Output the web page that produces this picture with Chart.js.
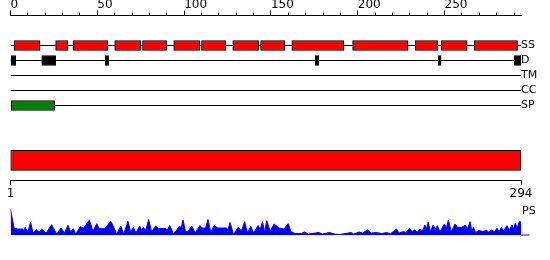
<!DOCTYPE html>
<html><head><meta charset="utf-8">
<script src="https://cdn.jsdelivr.net/npm/chart.js@4/dist/chart.umd.min.js"></script>
<style>
html,body{margin:0;padding:0;background:#fff;width:550px;height:260px;overflow:hidden;position:relative}
canvas{position:absolute;left:0}
</style></head><body>
<canvas id="tracks" width="550" height="121" style="top:0"></canvas>
<canvas id="protein" width="550" height="72" style="top:140px"></canvas>
<canvas id="ps" width="550" height="45" style="top:200px"></canvas>
<script>
// ---------- data ----------
const seqLength = 294;
const trackLabels = ['SS', 'D', 'TM', 'CC', 'SP'];
const ssSegments = [[2,17],[26,33],[36,56],[60,75],[76,90],[94,109],[110,124],[128,143],[144,158],[162,192],[197,229],[233,246],[248,263],[267,292]];
const disorderSegments = [[0,3],[18,26],[54.5,56.5],[175.5,177.5],[246.3,248],[290,294]];
const tmSegments = [];
const ccSegments = [];
const spSegments = [[0,25.5]];
const domainSegments = [[1,294]];
const topMajorStep = 50;
const topMinorStep = 10;
const bottomTicks = [1, 294];
const psLabel = 'PS';
const psProfile = [[1,26],[3,7],[5,6],[8,6],[8.7,4],[9.4,7.7],[11,3],[12.5,12.7],[14,2],[16,5.7],[17.5,3],[19,5.7],[21.5,2],[24.6,10.3],[27.5,1],[30,7],[32,2],[34,9.7],[35.5,3],[37,6.3],[38.5,1],[41,8.3],[43,7],[46.3,15],[48.3,3.7],[50.5,11.3],[52,6.3],[55,6.3],[58.6,13.7],[62,1],[64.3,9],[66,1],[68.4,13.7],[70,3],[71.5,7.7],[73,2],[75.1,9],[76.2,5],[77.4,7.5],[78.5,4],[80.3,15.5],[82,3],[84.3,9],[86,6.5],[90,6.5],[91,5],[92.4,9.5],[94.5,1.5],[96,4],[98,9],[99,7],[100,15],[101.5,3],[103,4],[105,9],[107,2],[109.7,9.5],[111,7],[113,7],[114.3,15.5],[116,2.5],[117.8,9.5],[120,7],[125,7],[125.8,5],[127,12.5],[129,0.5],[131.8,8],[133.5,4],[135.4,13.3],[137,2],[138.9,8.7],[140.5,2],[143.1,9.5],[144.3,5],[145.6,13.3],[146.8,3],[148.1,14.3],[150,3.7],[152.3,11],[155,7],[158,6],[160.4,11.3],[162,3],[164.5,1.5],[168,1.5],[169.6,3],[172,1],[178,2.5],[180,1],[184,2.5],[187,1],[190,0.5],[196.5,2.5],[198,1],[201,3],[203,2],[206,5],[208,2],[211,2.5],[214,1.5],[217,2.5],[219,1],[222.5,6],[224,2],[226.5,3.5],[228,2.5],[230,6.5],[231.5,3.5],[233,5],[234.5,3],[236,6],[237.5,4],[238.8,10],[239.8,6],[240.7,12.7],[242,3.5],[243.6,10],[244.8,6],[246,9.3],[247.5,3],[250,11],[251.2,7],[252.3,15],[254,3],[256.1,11],[257.5,7.7],[260,7.5],[261.9,10],[263.3,6.5],[264.8,13.3],[265.8,3],[266.6,7.7],[268,2.5],[270,4.5],[272,3.5],[274,4.5],[275.5,3],[277.3,5.3],[278.7,3],[280.2,6.7],[281.5,3.5],[282.7,7.7],[284,4],[285.9,9.3],[287.3,5],[288.8,10],[289.8,6],[290.7,12],[291.8,7],[293,13.3],[294,13]];
const psMax = 26;

// ---------- charts ----------
Chart.defaults.font.family = 'DejaVu Sans';
Chart.defaults.color = '#000';
const common = {responsive:false, animation:false, events:[], plugins:{legend:{display:false}, tooltip:{enabled:false}}};
const noPad = s => { s.paddingLeft = 0; s.paddingRight = 0; s.paddingTop = 0; s.paddingBottom = 0; };
const segs = (arr, label) => arr.map(([a,b]) => ({x:[a,b], y:label}));
const barStyle = (fill, thick) => ({type:'bar', indexAxis:'y', backgroundColor:fill, borderColor:'#000', borderWidth:1, borderSkipped:false, barThickness:thick, grouped:false, order:1});

const yCats = ['', '', ...trackLabels, ''];
new Chart(document.getElementById('tracks'), {
  type:'bar',
  data:{labels:yCats, datasets:[
    ...trackLabels.map(t => ({type:'line', indexAxis:'y', data:[{x:0,y:t},{x:seqLength,y:t}], borderColor:'#000', borderWidth:1, pointRadius:0, order:5})),
    Object.assign(barStyle('#ff0000',10), {data:segs(ssSegments,'SS')}),
    Object.assign(barStyle('#000000',10), {data:segs(disorderSegments,'D')}),
    Object.assign(barStyle('#0000ff',10), {data:segs(tmSegments,'TM')}),
    Object.assign(barStyle('#ff00ff',10), {data:segs(ccSegments,'CC')}),
    Object.assign(barStyle('#008000',10), {data:segs(spSegments,'SP')})
  ]},
  options:Object.assign({}, common, {
    indexAxis:'y',
    layout:{padding:{left:10.5, right:0, top:0, bottom:0.5}},
    scales:{
      x:{type:'linear', position:'top', weight:1, min:0, max:seqLength,
         ticks:{stepSize:topMajorStep, includeBounds:false, align:'start', padding:-2, font:{size:12}, color:'#000', maxRotation:0, autoSkip:false},
         grid:{drawOnChartArea:false, tickLength:5, color:'#000'}, border:{color:'#000'},
         afterFit:s => { s.height = 15.5; noPad(s); }},
      x2:{type:'linear', position:'top', weight:0, min:0, max:seqLength,
         ticks:{stepSize:topMinorStep, includeBounds:false, display:false},
         grid:{drawOnChartArea:false, tickLength:3, color:'#000'}, border:{color:'#000'},
         afterFit:s => { s.height = 0; noPad(s); }},
      y:{type:'category', position:'right', offset:false,
         ticks:{padding:0, crossAlign:'near', font:{size:11}, color:'#000', autoSkip:false},
         grid:{display:false, drawTicks:false, tickLength:0}, border:{display:false},
         afterFit:s => { s.width = 29; noPad(s); }}
    }
  })
});

new Chart(document.getElementById('protein'), {
  type:'bar',
  data:{labels:['protein'], datasets:[Object.assign(barStyle('#ff0000',20), {data:segs(domainSegments,'protein')})]},
  options:Object.assign({}, common, {
    indexAxis:'y',
    layout:{padding:{left:10.5, right:29, top:0, bottom:0}},
    scales:{
      x:{type:'linear', position:'bottom', min:1, max:seqLength,
         afterBuildTicks:s => { s.ticks = bottomTicks.map(v => ({value:v})); },
         ticks:{padding:2, font:{size:12}, color:'#000', maxRotation:0, autoSkip:false},
         grid:{drawOnChartArea:false, tickLength:4, color:'#000'}, border:{color:'#000'},
         afterFit:s => { s.height = 31.3; noPad(s); }},
      y:{type:'category', display:false, offset:true}
    }
  })
});

new Chart(document.getElementById('ps'), {
  type:'line',
  data:{datasets:[
    {data:psProfile.map(([x,y]) => ({x, y})), fill:'origin', backgroundColor:'#0000ff', borderColor:'#0000ff', borderWidth:1, pointRadius:0, tension:0},
    {data:[{x:seqLength,y:0},{x:seqLength+5,y:0}], borderColor:'#0000ff', borderWidth:1, pointRadius:0, clip:false, fill:false}
  ]},
  options:Object.assign({}, common, {
    layout:{padding:{left:10.5, right:0, top:9, bottom:10}},
    scales:{
      x:{type:'linear', display:false, min:1, max:seqLength},
      y:{type:'linear', display:false, min:0, max:psMax},
      yr:{type:'linear', position:'right', min:0, max:psMax,
          afterBuildTicks:s => { s.ticks = [{value:psMax - 2}]; },
          ticks:{callback:() => psLabel, padding:1, crossAlign:'near', font:{size:11}, color:'#000'},
          grid:{display:false, drawTicks:false, tickLength:0}, border:{display:false},
          afterFit:s => { s.width = 29; noPad(s); }}
    }
  })
});
</script>
</body></html>
